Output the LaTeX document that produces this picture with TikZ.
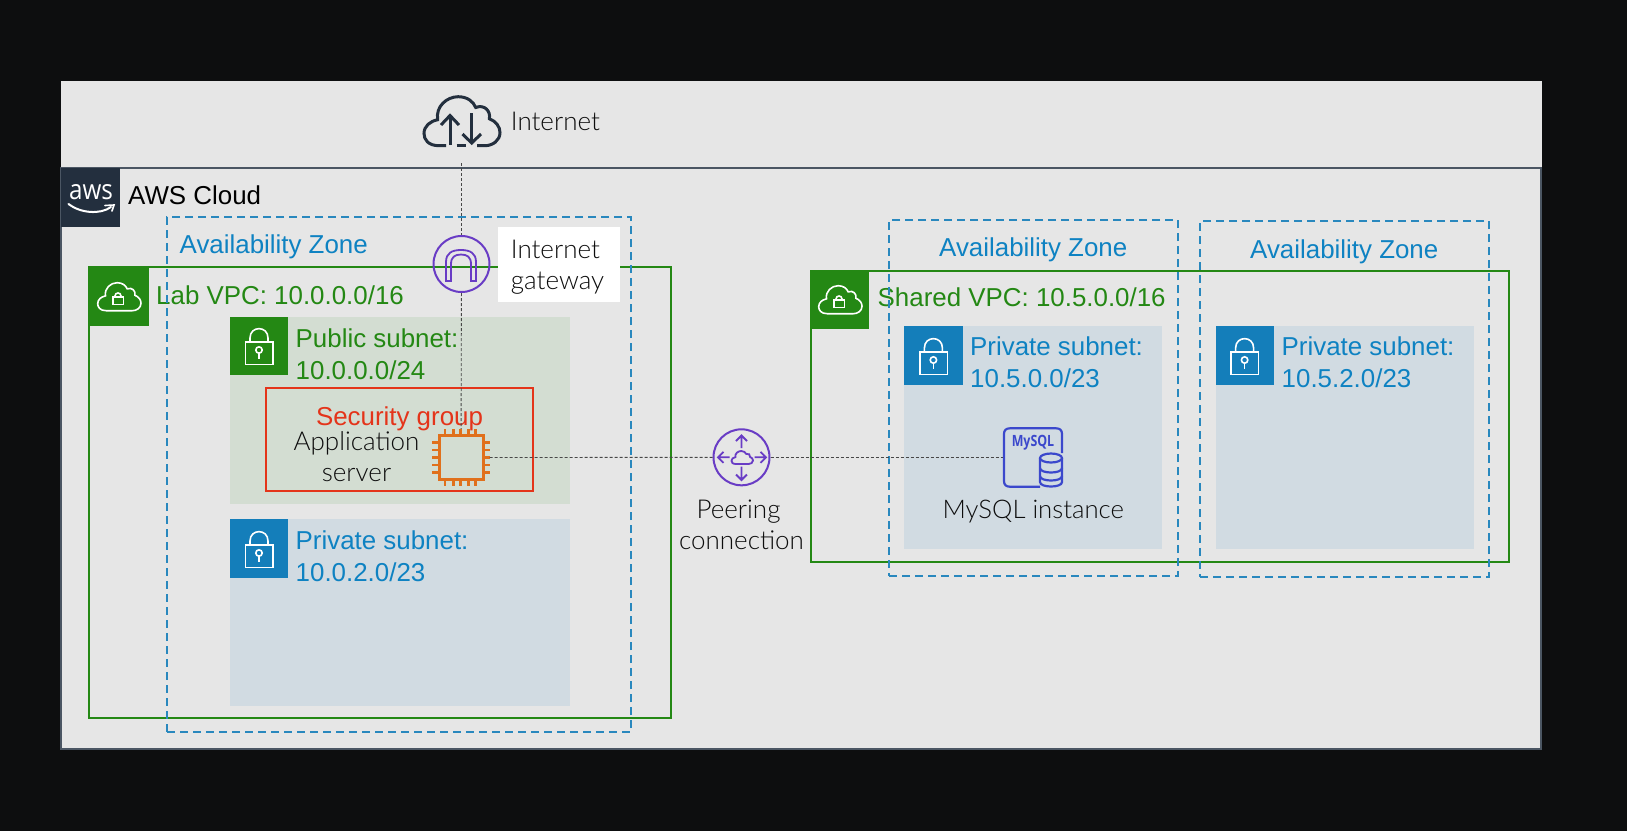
\documentclass[tikz,border=0pt]{standalone}
\usepackage{fontspec}
\usetikzlibrary{fit}
\setmainfont{Liberation Sans}
\newfontfamily\ember{Lato Light}
\newfontfamily\emberbold{Open Sans}[FakeStretch=0.8]
\newfontfamily\awsfont{Open Sans}[FakeStretch=0.88]
\definecolor{pagebg}{HTML}{0D0E0F}
\definecolor{panel}{HTML}{E6E6E6}
\definecolor{awsdark}{HTML}{232F3E}
\definecolor{edgeline}{HTML}{4B5663}
\definecolor{vpcgreen}{HTML}{248814}
\definecolor{azblue}{HTML}{147EBA}
\definecolor{aztext}{HTML}{0E82C2}
\definecolor{pubfill}{HTML}{D3DDD2}
\definecolor{privfill}{HTML}{D1DBE2}
\definecolor{sgred}{HTML}{E4341A}
\definecolor{ec2}{HTML}{E0701C}
\definecolor{netpurple}{HTML}{693CC5}
\definecolor{dbblue}{HTML}{3B48CC}
\tikzset{
  panelbox/.style={inner sep=0pt,fill=panel},
  cloudbox/.style={inner sep=0pt,draw=edgeline,line width=2pt,fill=panel},
  vpcbox/.style={inner sep=0pt,draw=vpcgreen,line width=2pt},
  azbox/.style={inner sep=0pt,draw=azblue!90!panel,line width=2pt,dash pattern=on 8pt off 5pt},
  pubbox/.style={inner sep=0pt,fill=pubfill},
  privbox/.style={inner sep=0pt,fill=privfill},
  sgbox/.style={inner sep=0pt,draw=sgred,line width=2pt},
  greenicon/.style={inner sep=0pt,fill=vpcgreen},
  blueicon/.style={inner sep=0pt,fill=azblue},
  darkicon/.style={inner sep=0pt,fill=awsdark},
  whitebox/.style={inner sep=0pt,fill=white},
  sanslabel/.style={inner sep=0pt,anchor=base west,font=\fontsize{25.9}{32}\selectfont,align=left},
  azlabel/.style={sanslabel,text=aztext},
  greenlabel/.style={sanslabel,text=vpcgreen},
  emberlabel/.style={inner sep=0pt,font=\ember\fontsize{26}{31}\selectfont,text=black!95},
  conn/.style={draw=black!72,line width=0.85pt,dash pattern=on 3pt off 2pt},
  iconnode/.style={inner sep=0pt,minimum width=#1,minimum height=#1},
  whitestroke/.style={draw=white,line width=1.6pt},
}
% lock symbol for subnet icons, origin at the icon's top left corner
\newcommand\lockicon[2]{\begin{scope}[shift={(#1,#2)},whitestroke]
  \draw (15.5,25) rectangle (43,47.5);
  \draw (20,25) -- (20,21) .. controls (20,8.5) and (38,8.5) .. (38,21) -- (38,25);
  \draw (29,33) circle (3.2);
  \draw (29,36.2) -- (29,42);
\end{scope}}
% generic cloud outline, closed
\newcommand\cloudpath{(.2,1) .. controls (.05,1) and (0,.87) .. (0,.75) .. controls (0,.6) and (.08,.5) .. (.18,.47) .. controls (.15,.2) and (.3,0) .. (.45,0) .. controls (.57,0) and (.65,.1) .. (.68,.22) .. controls (.8,.15) and (.88,.3) .. (.86,.45) .. controls (.95,.5) and (1,.62) .. (1,.73) .. controls (1,.9) and (.9,1) .. (.8,1) -- cycle}
\newcommand\vpcicon[2]{\begin{scope}[shift={(#1,#2)},whitestroke]
  \begin{scope}[shift={(8.7,15.7)},xscale=43.3,yscale=28]
    \draw \cloudpath;
  \end{scope}
  \draw (23.7,30) rectangle (34.3,37.3);
  \draw (26,30) -- (26,29) .. controls (26,25) and (32,25) .. (32,29) -- (32,30);
\end{scope}}
\begin{document}
\begin{tikzpicture}[x=1pt,y=-1pt]
\useasboundingbox (0,0) rectangle (1627,831);
\fill[pagebg] (0,0) rectangle (1627,831);
% panels
\node (top) [panelbox,fit={(61,81)(1542,168)}] {};
\node (awscloud) [cloudbox,fit={(61,168)(1541,749)}] {};
\node (awslogo) [darkicon,fit={(61,168)(120,227)}] {};
\node (awsword) [inner sep=0pt,anchor=base,text=white,font=\awsfont\fontsize{27.5}{29}\selectfont] at (91,199.5) {aws};
\draw[white,line width=2pt,line cap=round] (68.5,204) .. controls (80,213) and (100,215) .. (111,207);
\draw[white,line width=1.6pt,line cap=round] (105,205.5) -- (114,205) -- (112,211);
\node (awslabel) [sanslabel] at (128,204) {AWS Cloud};
% Lab side
\node (labvpc) [vpcbox,fit={(89,267)(671,718)}] {};
\node (labpub) [pubbox,fit={(230,317)(570,504)}] {};
\node (labpriv) [privbox,fit={(230,519)(570,706)}] {};
\node (labicon) [greenicon,fit={(89,267)(148.5,326)}] {};
\vpcicon{89}{267}
\node (pubicon) [greenicon,fit={(230,317)(288,375)}] {};
\lockicon{230}{317}
\node (privicon) [blueicon,fit={(230,519)(288,578)}] {};
\lockicon{230}{520}
\node (labvpclabel) [greenlabel] at (156,304) {Lab VPC: 10.0.0.0/16};
\node (publabel) [greenlabel] at (295.5,379) {Public subnet:\\10.0.0.0/24};
\node (privlabel) [azlabel] at (295.5,581) {Private subnet:\\10.0.2.0/23};
\node (sg) [sgbox,fit={(266,388)(533,491)}] {};
\node (sglabel) [sanslabel,anchor=base,text=sgred] at (399.5,425) {Security group};
\node (az1) [azbox,fit={(167,217)(631,732)}] {};
\node (az1label) [azlabel] at (179.5,253) {Availability Zone};
% Shared side
\node (sharedvpc) [vpcbox,fit={(811,271)(1509,562)}] {};
\node (privb) [privbox,fit={(904.4,326)(1162,548.7)}] {};
\node (privc) [privbox,fit={(1215.6,326)(1473.5,548.7)}] {};
\node (sharedicon) [greenicon,fit={(811,270.7)(868.6,329)}] {};
\vpcicon{810}{270}
\node (privbicon) [blueicon,fit={(904.4,326)(963,385)}] {};
\lockicon{904.4}{327}
\node (privcicon) [blueicon,fit={(1215.6,326)(1274,385)}] {};
\lockicon{1215.6}{327}
\node (sharedlabel) [greenlabel] at (877.5,306.7) {Shared VPC: 10.5.0.0/16};
\node (privblabel) [azlabel] at (970,387) {Private subnet:\\10.5.0.0/23};
\node (privclabel) [azlabel] at (1281.5,387) {Private subnet:\\10.5.2.0/23};
\node (az2) [azbox,fit={(889,220)(1178,576)}] {};
\node (az3) [azbox,fit={(1200,221)(1489,577)}] {};
\node (az2label) [azlabel] at (939,256.7) {Availability Zone};
\node (az3label) [azlabel] at (1250,258.3) {Availability Zone};
% Internet
\begin{scope}[shift={(424,96.7)},xscale=76,yscale=49]
  \draw[awsdark,line width=3pt] (.29,1) -- (.2,1) .. controls (.05,1) and (0,.87) .. (0,.75) .. controls (0,.6) and (.08,.5) .. (.18,.47) .. controls (.15,.2) and (.3,0) .. (.45,0) .. controls (.57,0) and (.65,.1) .. (.68,.22) .. controls (.8,.15) and (.88,.3) .. (.86,.45) .. controls (.95,.5) and (1,.62) .. (1,.73) .. controls (1,.9) and (.9,1) .. (.8,1) -- (.7,1);
  \draw[awsdark,line width=3pt] (.43,1) -- (.55,1);
\end{scope}
\draw[awsdark,line width=3pt] (450,145) -- (450,116);
\draw[awsdark,line width=3pt] (441,125) -- (450,115.5) -- (459,125);
\draw[awsdark,line width=3pt] (471.7,113) -- (471.7,143);
\draw[awsdark,line width=3pt] (462.5,134) -- (471.7,143) -- (481,134);
\node (internetlabel) [emberlabel,anchor=base west] at (510.7,130) {Internet};
\coordinate (inetdrop) at (461.5,163);
% Gateway
\node (gatewaybg) [whitebox,fit={(498,227)(620,301.7)}] {};
\node (gatewaylabel) [emberlabel,anchor=base west,align=left] at (510.7,289) {Internet\\gateway};
\node (gw) [circle,inner sep=0pt,minimum size=56pt,draw=netpurple,line width=2pt] at (461.5,264) {};
\draw[netpurple,line width=1.8pt] (446,281) -- (446,262) .. controls (446,253) and (452,250) .. (461,250) .. controls (470,250) and (476,253) .. (476,262) -- (476,281) -- (471,281) -- (471,264) .. controls (471,257) and (467,254.5) .. (461,254.5) .. controls (455,254.5) and (451,257) .. (451,264) -- (451,281) -- cycle;
% EC2 chip
\node (chip) [iconnode=57pt] at (461,457.5) {};
\draw[ec2,line width=3pt] (439,435.7) rectangle (483.3,479.3);
\foreach \px in {445,453.3,460.7,468.3,475.7}{\draw[ec2,line width=2.6pt] (\px,429) -- (\px,435.7) (\px,479.3) -- (\px,486);}
\foreach \py in {442.7,450,457.3,465,472.3}{\draw[ec2,line width=2.6pt] (432.3,\py) -- (439,\py) (483.3,\py) -- (489.5,\py);}
\node (applabel) [emberlabel,align=center,anchor=base] at (356.5,481.5) {Application\\server};
% Peering
\node (peer) [circle,inner sep=0pt,minimum size=56pt,draw=netpurple,line width=2pt] at (741.5,457.3) {};
\begin{scope}[netpurple,line width=1.8pt]
  \draw (741.5,448) -- (741.5,435.5) (736,441) -- (741.5,435.5) -- (747,441);
  \draw (741.5,466.5) -- (741.5,480) (736,474.5) -- (741.5,480) -- (747,474.5);
  \draw (729.5,457.3) -- (718,457.3) (723.5,451.8) -- (718,457.3) -- (723.5,462.8);
  \draw (754.5,457.3) -- (766,457.3) (760.5,451.8) -- (766,457.3) -- (760.5,462.8);
  \begin{scope}[shift={(731.5,451)},xscale=21.5,yscale=13]
    \draw \cloudpath;
  \end{scope}
\end{scope}
\node (peerlabel) [emberlabel,align=center,anchor=base] at (741.5,549.5) {Peering\hspace*{6pt}\\connection};
% MySQL
\node (mysql) [iconnode=58.7pt] at (1033,457.3) {};
\draw[dbblue,line width=2.2pt] (1040,486.7) -- (1010,486.7) .. controls (1006,486.7) and (1004,484.7) .. (1004,481) -- (1004,434) .. controls (1004,430.3) and (1006,428.3) .. (1010,428.3) -- (1056,428.3) .. controls (1060,428.3) and (1062,430.3) .. (1062,434) -- (1062,453);
\node (mysqlword) [inner sep=0pt,anchor=base,text=dbblue,font=\emberbold\bfseries\fontsize{15.5}{15}\selectfont] at (1033,446.7) {MySQL};
\begin{scope}[dbblue,line width=2.2pt]
  \draw (1051,458) ellipse (11 and 4.5);
  \draw (1040,458) -- (1040,482) .. controls (1040,488) and (1062,488) .. (1062,482) -- (1062,458);
  \draw (1040,468) .. controls (1040,474) and (1062,474) .. (1062,468);
  \draw (1040,476) .. controls (1040,482) and (1062,482) .. (1062,476);
\end{scope}
\node (mysqllabel) [emberlabel,anchor=base west,font=\ember\fontsize{25.7}{31}\selectfont] at (942.5,518) {MySQL instance};
% connectors
\draw[conn] (inetdrop) -- (gw);
\draw[conn] (gw) -- (chip);
\draw[conn] (chip) -- (peer);
\draw[conn] (peer) -- (mysql);
\end{tikzpicture}
\end{document}
